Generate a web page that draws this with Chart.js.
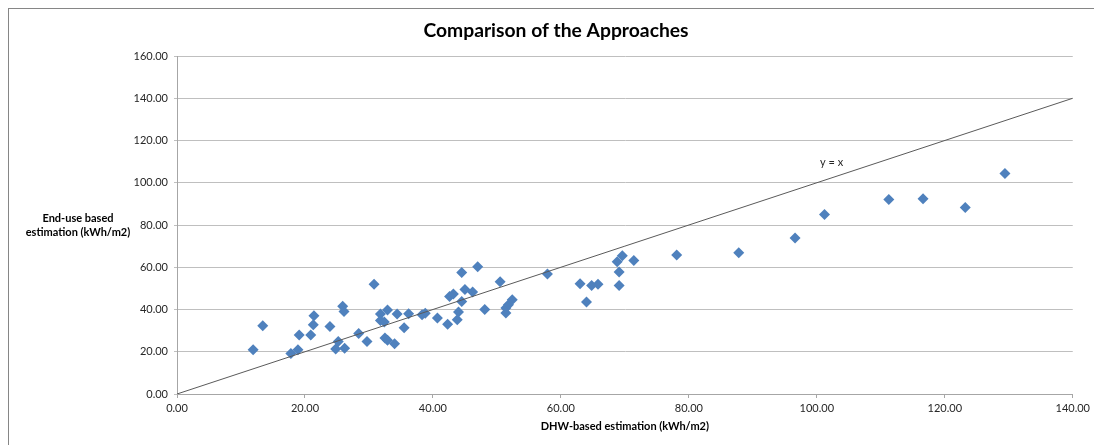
<!DOCTYPE html>
<html>
<head>
<meta charset="utf-8">
<style>
  html, body { margin: 0; padding: 0; background: #ffffff; }
  #wrap { width: 1094px; height: 445px; position: relative; }
</style>
<script src="https://cdn.jsdelivr.net/npm/chart.js@4.4.1/dist/chart.umd.min.js"></script>
</head>
<body>
<div id="wrap"><canvas id="chart" width="1094" height="445"></canvas></div>
<script>
// DHW-based estimation (kWh/m2) per building
const dhwBased = [
  11.9, 13.4, 17.8, 18.9, 19.1, 20.9, 21.3, 21.4, 23.9, 24.8,
  25.2, 25.9, 26.1, 26.2, 28.4, 29.7, 30.8, 31.8, 31.8, 32.4,
  32.5, 32.9, 32.9, 34.0, 34.4, 35.5, 36.2, 38.3, 38.8, 40.7,
  42.3, 42.6, 43.2, 43.8, 44.0, 44.5, 44.5, 45.0, 46.2, 47.0,
  48.1, 50.5, 51.4, 51.4, 51.8, 52.4, 57.9, 63.0, 64.0, 64.8,
  65.8, 68.8, 69.1, 69.1, 69.6, 71.4, 78.1, 87.8, 96.6, 101.2,
  111.25, 116.6, 123.2, 129.4
];
// End-use based estimation (kWh/m2) for the same buildings
const endUseBased = [
  21.0, 32.3, 19.2, 21.0, 27.9, 27.9, 32.8, 37.1, 31.9, 21.3,
  24.9, 41.5, 39.1, 21.6, 28.6, 24.8, 51.9, 37.9, 34.8, 34.1,
  26.5, 39.8, 25.4, 23.8, 37.9, 31.4, 38.0, 37.5, 38.2, 36.0,
  33.0, 46.1, 47.3, 35.2, 38.8, 43.8, 57.5, 49.5, 48.3, 60.2,
  40.0, 53.1, 38.3, 40.7, 42.3, 44.6, 56.8, 52.2, 43.5, 51.4,
  51.9, 62.6, 57.7, 51.4, 65.4, 63.2, 65.8, 66.9, 73.8, 85.0,
  92.1, 92.4, 88.3, 104.4
];
// Reference line y = x
const identityX = [0, 140];
const identityY = [0, 140];
const identityLabel = { text: 'y = x', x: 102.3, y: 109.4 };

// Axis ranges and tick spacing
const xTicks = { min: 0, max: 140, step: 20 };
const yTicks = { min: 0, max: 160, step: 20 };

const chartTitle = 'Comparison of the Approaches';
const xAxisTitle = 'DHW-based estimation (kWh/m2)';
const yAxisTitle = ['End-use based', 'estimation (kWh/m2)'];

const FONT = 'Lato, "Open Sans", sans-serif';

const scatterPoints = dhwBased.map((x, i) => ({ x, y: endUseBased[i] }));
const identityPoints = identityX.map((x, i) => ({ x, y: identityY[i] }));

// Frame, titles and annotation drawn around the plot
const decorations = {
  id: 'decorations',
  beforeDraw(chart) {
    const ctx = chart.ctx;
    ctx.save();
    ctx.fillStyle = '#ffffff';
    ctx.fillRect(0, 0, chart.width, chart.height);
    ctx.strokeStyle = '#868686';
    ctx.lineWidth = 1;
    ctx.strokeRect(8.5, 8.5, chart.width + 20, chart.height + 20);
    ctx.restore();
  },
  afterDraw(chart) {
    const ctx = chart.ctx;
    const area = chart.chartArea;
    const xs = chart.scales.x, ys = chart.scales.y;
    ctx.save();
    ctx.fillStyle = '#000000';
    ctx.textAlign = 'center';
    ctx.textBaseline = 'middle';

    ctx.font = 'bold 19.3px ' + FONT;
    ctx.fillText(chartTitle, 556, 31);

    ctx.font = 'bold 11px ' + FONT;
    ctx.fillText(xAxisTitle, (area.left + area.right) / 2, 426);
    const midY = (area.top + area.bottom) / 2;
    ctx.fillText(yAxisTitle[0], 78, midY - 6.5);
    ctx.fillText(yAxisTitle[1], 78, midY + 7.5);

    ctx.font = '11px ' + FONT;
    ctx.fillStyle = '#262626';
    ctx.fillText(identityLabel.text,
      xs.getPixelForValue(identityLabel.x),
      ys.getPixelForValue(identityLabel.y));
    ctx.restore();
  }
};

new Chart(document.getElementById('chart'), {
  type: 'scatter',
  data: {
    datasets: [
      {
        type: 'line',
        label: 'y = x',
        data: identityPoints,
        borderColor: '#5a5a5a',
        borderWidth: 1,
        pointRadius: 0,
        fill: false,
        order: 0
      },
      {
        label: 'Buildings',
        data: scatterPoints,
        pointStyle: 'rectRot',
        pointRadius: 5.5,
        pointHoverRadius: 5.5,
        backgroundColor: '#4f81bd',
        borderColor: '#4f81bd',
        borderWidth: 0,
        order: 1
      }
    ]
  },
  options: {
    responsive: false,
    animation: false,
    devicePixelRatio: 1,
    layout: { padding: { left: 0, right: 21, top: 56, bottom: 0 } },
    plugins: {
      legend: { display: false },
      tooltip: { enabled: false },
      title: { display: false }
    },
    scales: {
      x: {
        type: 'linear',
        min: xTicks.min,
        max: xTicks.max,
        afterFit(scale) { scale.height = 51; },
        ticks: {
          stepSize: xTicks.step,
          padding: 4,
          color: '#262626',
          font: { family: FONT, size: 11 },
          callback: v => Number(v).toFixed(2),
          maxRotation: 0
        },
        grid: {
          drawOnChartArea: false,
          drawTicks: true,
          tickLength: 4,
          color: '#a6a6a6'
        },
        border: { display: true, color: '#a6a6a6', width: 1 }
      },
      y: {
        type: 'linear',
        min: yTicks.min,
        max: yTicks.max,
        afterFit(scale) { scale.width = 177; },
        ticks: {
          stepSize: yTicks.step,
          padding: 6,
          color: '#262626',
          font: { family: FONT, size: 11 },
          callback: v => Number(v).toFixed(2)
        },
        grid: {
          drawOnChartArea: true,
          drawTicks: true,
          tickLength: 3,
          color: '#bfbfbf'
        },
        border: { display: true, color: '#a6a6a6', width: 1 }
      }
    }
  },
  plugins: [decorations]
});
</script>
</body>
</html>
